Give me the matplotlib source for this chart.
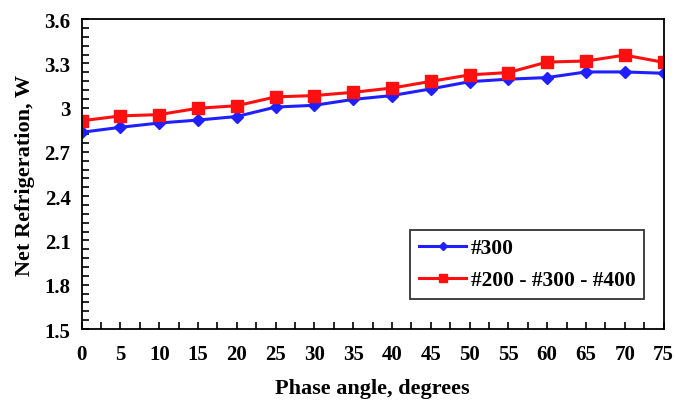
import matplotlib
matplotlib.use('Agg')
import matplotlib.pyplot as plt
from matplotlib.ticker import MultipleLocator

phase = [0, 5, 10, 15, 20, 25, 30, 35, 40, 45, 50, 55, 60, 65, 70, 75]
net_300 = [2.833, 2.867, 2.896, 2.916, 2.94, 3.004, 3.016, 3.056, 3.082,
           3.127, 3.176, 3.193, 3.204, 3.242, 3.242, 3.233]
net_mixed = [2.911, 2.944, 2.953, 2.996, 3.013, 3.073, 3.082, 3.104, 3.133,
             3.178, 3.222, 3.238, 3.309, 3.316, 3.356, 3.307]
labels = ['#300', '#200 - #300 - #400']

plt.rcParams['font.family'] = ['Liberation Serif', 'DejaVu Serif']
plt.rcParams['font.weight'] = 'bold'

fig = plt.figure(figsize=(6.75, 4.02), dpi=100)
ax = fig.add_axes([0.121, 0.179, 0.862, 0.771])

ax.plot(phase, net_300, color='#1f1fff', marker='D', markersize=6, lw=2.2, label=labels[0])
ax.plot(phase, net_mixed, color='#ff1010', marker='s', markersize=8, lw=2.2, label=labels[1])

ax.set_xlim(0, 75)
ax.set_ylim(1.5, 3.6)
ax.xaxis.set_major_locator(MultipleLocator(5))
ax.xaxis.set_minor_locator(MultipleLocator(2.5))
ax.yaxis.set_minor_locator(MultipleLocator(0.06))
ax.set_yticks([1.5, 1.8, 2.1, 2.4, 2.7, 3.0, 3.3, 3.6])
ax.set_yticklabels(['1.5', '1.8', '2.1', '2.4', '2.7', '3', '3.3', '3.6'])
ax.tick_params(which='both', direction='in', top=False, right=False, labelsize=15, length=5, width=1.2)
ax.tick_params(axis='x', pad=11)
ax.tick_params(axis='y', pad=8)
for s in ax.spines.values():
    s.set_linewidth(1.3)

ax.set_xlabel('Phase angle, degrees', fontsize=16, fontweight='bold', labelpad=10)
ax.set_ylabel('Net Refrigeration, W', fontsize=16, fontweight='bold', labelpad=7)

leg = ax.legend(loc='lower right', bbox_to_anchor=(0.985, 0.063), fontsize=15.5, frameon=True,
                fancybox=False, edgecolor='black', handlelength=2.2, handletextpad=0.2,
                borderpad=0.4, labelspacing=0.55, markerscale=0.75)
leg.get_frame().set_linewidth(1.3)

fig.savefig('out.png', dpi=100)
